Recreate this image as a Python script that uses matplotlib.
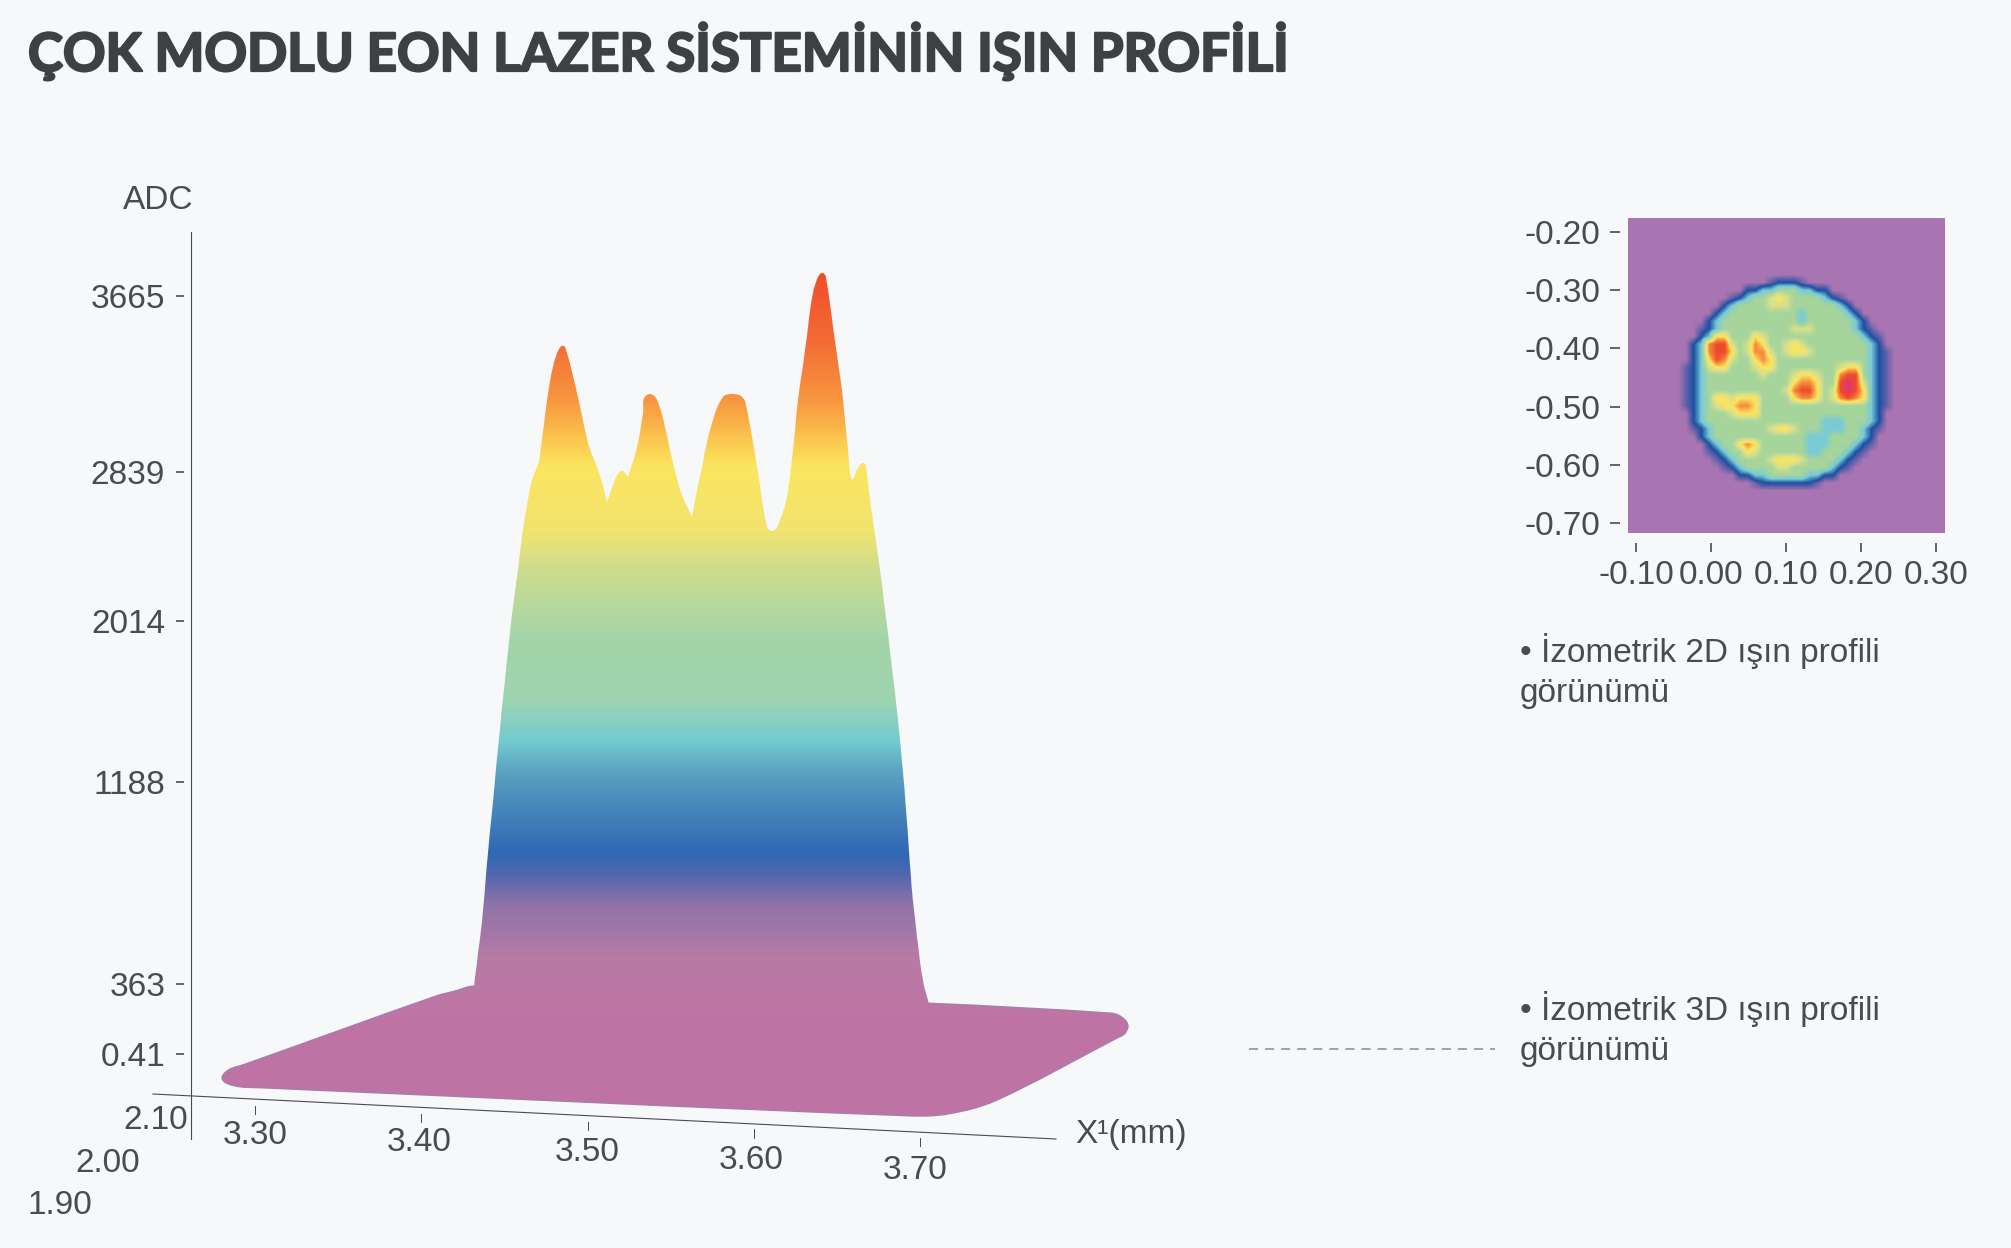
#! /usr/bin/env python3

# Beam profile of the multimode EON laser: 3D silhouette and 2D inset.

import matplotlib
matplotlib.use('Agg')
import matplotlib.pyplot as plt
import matplotlib.patheffects as pe
import numpy as np
from matplotlib.colors import LinearSegmentedColormap
from matplotlib.path import Path
from matplotlib.patches import PathPatch
from matplotlib.transforms import IdentityTransform

W, H = 2011, 1248
BG = '#F7F8FA'
INK = '#4A4B4F'
TXT = {'family': ['Liberation Sans', 'DejaVu Sans'], 'color': INK, 'fontsize': 24}

title = 'ÇOK MODLU EON LAZER SİSTEMİNİN IŞIN PROFİLİ'

adc_ticks = [0.41, 363, 1188, 2014, 2839, 3665]
adc_labels = ['0.41', '363', '1188', '2014', '2839', '3665']
# heights of those ticks on the picture are uneven, the scale follows them
adc_pos = [194, 264, 466, 627, 776, 952]

x_ticks = [3.30, 3.40, 3.50, 3.60, 3.70]
x_labels = ['3.30', '3.40', '3.50', '3.60', '3.70']
x_tick_top = [-270, -311, -352, -388, -435]
x_tick_bot = [-311, -352, -393, -435, -476]
x_label_adc = [-424, -460, -512, -553, -605]
x_label_mm = [3.30, 3.399, 3.50, 3.5985, 3.697]

y1_labels = ['2.10', '2.00', '1.90']
y1_mm = [3.2597, 3.2308, 3.2019]
y1_adc = [-343, -566, -783]

# outline of the surface, x in mm and ADC counts, cusps are listed twice
profile_mm = [3.4317, 3.4317, 3.4341, 3.4371, 3.4401, 3.4444, 3.4486, 3.4534, 3.4582, 3.4624, 3.4666,
              3.4708, 3.4720, 3.4756, 3.4792, 3.4829, 3.4859, 3.4877, 3.4937, 3.5003, 3.5057, 3.5099,
              3.5117, 3.5117, 3.5147, 3.5183, 3.5213, 3.5244, 3.5244, 3.5298, 3.5334, 3.5340, 3.5376,
              3.5418, 3.5466, 3.5514, 3.5568, 3.5629, 3.5629, 3.5689, 3.5755, 3.5815, 3.5875, 3.5935,
              3.5959, 3.6020, 3.6080, 3.6110, 3.6146, 3.6200, 3.6236, 3.6266, 3.6308, 3.6356, 3.6392, 3.6417,
              3.6435, 3.6477, 3.6531, 3.6567, 3.6585, 3.6597, 3.6627, 3.6657, 3.6675, 3.6705, 3.6759,
              3.6807, 3.6868, 3.6916, 3.6943, 3.6982, 3.7018, 3.7054, 3.7054]
profile_adc = [347, 347, 490, 665, 898, 1198, 1573, 1952, 2296, 2590, 2795,
               2886, 2956, 3177, 3332, 3416, 3430, 3397, 3210, 2975, 2863, 2739,
               2673, 2673, 2750, 2828, 2844, 2811, 2811, 2956, 3116, 3186, 3205,
               3177, 3050, 2881, 2712, 2590, 2590, 2863, 3083, 3191, 3205, 3186,
               3130, 2863, 2534, 2512, 2546, 2701, 2942, 3177, 3412, 3679, 3764, 3773,
               3749, 3520, 3224, 2942, 2806, 2800, 2858, 2881, 2863, 2645, 2296,
               1952, 1506, 1074, 800, 555, 379, 259, 259]
base_mm = [3.7054, 3.8143, 3.8203, 3.8245, 3.8227, 3.8185, 3.7451, 3.7174, 3.6946, 3.3030, 3.2910,
           3.2826, 3.2808, 3.2850, 3.2940, 3.4089, 3.4203, 3.4317]
base_adc = [259, 208, 192, 151, 109, 88, -238, -305, -316, -170, -165,
            -145, -119, -83, -57, 296, 322, 347]

# colour of the surface at a given count
grad_adc = [-400, 176, 462, 686, 808, 898, 1230, 1400, 1609, 1917, 2296, 2518, 2863, 2989, 3177, 3458, 3800]
grad_col = ['#BF73A4', '#BF73A4', '#B87AA5', '#8D73A8', '#4F66AE', '#2F68B4', '#5AA0C0', '#74CBD0',
            '#9FD4B0', '#A3D4A8', '#CCDC8C', '#F2E36E', '#FBE55F', '#FBC64F', '#F7963F', '#F26B34', '#EF4A2A']

# 2D view, levels read cell by cell, a dot is half way from background to rim
heat_x_ticks = [-0.10, 0.00, 0.10, 0.20, 0.30]
heat_x_labels = ['-0.10', '0.00', '0.10', '0.20', '0.30']
heat_y_ticks = [-0.20, -0.30, -0.40, -0.50, -0.60, -0.70]
heat_y_labels = ['-0.20', '-0.30', '-0.40', '-0.50', '-0.60', '-0.70']
heat_col = ['#A874B2', '#1C4FA2', '#78CBD8', '#A5D59B', '#D8E08C', '#FBE55F', '#F58A3C', '#EE4B2B', '#E0357A']
heat_rows = [
    '0' * 41, '0' * 41, '0' * 41, '0' * 41, '0' * 41, '0' * 41, '0' * 41, '0' * 41,
    '0' * 18 + '.111.' + '0' * 18,
    '0' * 15 + '11223332211' + '0' * 15,
    '0' * 13 + '.1233454333321.' + '0' * 13,
    '0' * 12 + '12333344433333321' + '0' * 12,
    '0' * 11 + '1233333333323333321' + '0' * 11,
    '0' * 10 + '123333333333233333321' + '0' * 10,
    '0' * 9 + '.123333333334443333321.' + '0' * 9,
    '0' * 9 + '12553335433333333333321.' + '0' * 8,
    '0' * 8 + '1267743465334543333333321' + '0' * 8,
    '0' * 8 + '1267753466434554333333321.' + '0' * 7,
    '0' * 8 + '1257643356533333333333321.' + '0' * 7,
    '0' * 7 + '.1245533345533333333455321.' + '0' * 7,
    '0' * 7 + '.1233333334333455433677321.' + '0' * 7,
    '0' * 7 + '.1233333333333566533787421.' + '0' * 7,
    '0' * 7 + '.1233333333334677534787521.' + '0' * 7,
    '0' * 7 + '.1235545553333566534676521.' + '0' * 7,
    '0' * 7 + '.1234556653333333333333321.' + '0' * 7,
    '0' * 8 + '1233345553333333333333321' + '0' * 8,
    '0' * 8 + '1233333333333333322233321' + '0' * 8,
    '0' * 8 + '.12333333345543332223321.' + '0' * 8,
    '0' * 9 + '12333333333333222333321' + '0' * 9,
    '0' * 10 + '123356533333322233321.' + '0' * 9,
    '0' * 10 + '.1233543333332233321.' + '0' * 10,
    '0' * 11 + '.12333345554333321.' + '0' * 11,
    '0' * 12 + '.123333443333321.' + '0' * 12,
    '0' * 14 + '1122333332211' + '0' * 14,
    '0' * 16 + '.1111111.' + '0' * 16,
    '0' * 41, '0' * 41, '0' * 41, '0' * 41, '0' * 41, '0' * 41,
]


def smooth_path(px, py):
    # closed Bezier outline through the read points, handles limited by segment length
    pts = np.column_stack([px, py])
    n = len(pts)
    verts = [pts[0]]
    codes = [Path.MOVETO]
    for i in range(n):
        p0, p1 = pts[i - 1], pts[i]
        p2, p3 = pts[(i + 1) % n], pts[(i + 2) % n]
        seg = np.hypot(*(p2 - p1))
        t1 = p2 - p0
        t2 = p3 - p1
        t1 = t1 / max(np.hypot(*t1), 1e-6)
        t2 = t2 / max(np.hypot(*t2), 1e-6)
        verts += [p1 + t1 * seg / 3, p2 - t2 * seg / 3, p2]
        codes += [Path.CURVE4] * 3
    return Path(verts, codes)


def draw_main(fig):
    left, right = 184, 1150
    ax = fig.add_axes([left / W, 0, (right - left) / W, 1])
    ax.patch.set_alpha(0)

    knots = [-1005] + adc_ticks + [5054]
    pos = [0] + adc_pos + [H]
    ax.set_yscale('function', functions=(lambda v: np.interp(v, knots, pos),
                                         lambda v: np.interp(v, pos, knots)))
    ax.set_ylim(knots[0], knots[-1])
    ax.set_xlim(3.30 + (left - 255) * 0.0006015, 3.30 + (right - 255) * 0.0006015)
    for s in ax.spines.values():
        s.set_visible(False)
    ax.set_xticks([])
    ax.set_yticks(adc_ticks, adc_labels)
    ax.minorticks_off()
    ax.tick_params(axis='y', length=5.5, width=1.2, color=INK, pad=8)
    for t in ax.get_yticklabels():
        t.set(**TXT)

    # axis lines
    ax.plot([3.2615, 3.2615], [-440, 3965], color=INK, lw=0.8, clip_on=False)
    ax.plot([3.2386, 3.7818], [-207, -440], color=INK, lw=0.8, clip_on=False)
    for x, a, b in zip(x_ticks, x_tick_top, x_tick_bot):
        ax.plot([x, x], [a, b], color=INK, lw=0.7)
    for x, y, s in zip(x_label_mm, x_label_adc, x_labels):
        ax.text(x, y, s, ha='center', va='center', **TXT)
    for x, y, s in zip(y1_mm, y1_adc, y1_labels):
        ax.text(x, y, s, ha='right', va='center', clip_on=False, **TXT)
    ax.text(3.7934, -416, 'X¹(mm)', ha='left', va='center', **TXT)
    ax.text(3.2630, 4115, 'ADC', ha='right', va='center', **TXT)

    # surface
    to_px = ax.transData.transform
    all_px = to_px(np.column_stack([profile_mm + base_mm[1:-1], profile_adc + base_adc[1:-1]]))
    outline = smooth_path(all_px[:, 0], all_px[:, 1])

    base_px = to_px(np.column_stack([base_mm, base_adc]))
    rim = PathPatch(smooth_path(base_px[:, 0], base_px[:, 1]), transform=IdentityTransform(),
                    facecolor='none', edgecolor='#A87DAA', lw=2.2, zorder=2)
    ax.add_patch(rim)

    lo, hi = grad_adc[0], grad_adc[-1]
    stops = [(v - lo) / (hi - lo) for v in grad_adc]
    cmap = LinearSegmentedColormap.from_list('surface', list(zip(stops, grad_col)), N=512)
    rows = np.linspace(lo, hi, 900)
    mesh = ax.pcolormesh([3.27, 3.83], rows, rows[:-1, None], cmap=cmap, vmin=lo, vmax=hi,
                         shading='flat', zorder=3, rasterized=True)
    mesh.set_clip_path(outline, IdentityTransform())


def draw_inset(fig):
    # axes reach 8 px past the image on the tick sides, ticks stand off it that way
    ax = fig.add_axes([1620 / W, 1 - 533 / H - 10 / H, 324 / W, 325 / H])
    levels = np.array([[0.5 if c == '.' else int(c) for c in row] for row in heat_rows], dtype=float)
    ax.imshow(levels, cmap=LinearSegmentedColormap.from_list('beam', heat_col), vmin=0, vmax=8,
              extent=[-0.1107, 0.3107, -0.717, -0.176], aspect='auto', interpolation='bilinear')
    ax.set_xlim(-0.1213, 0.3107)
    ax.set_ylim(-0.734, -0.176)
    for s in ax.spines.values():
        s.set_visible(False)
    ax.patch.set_alpha(0)
    ax.set_xticks(heat_x_ticks, heat_x_labels)
    ax.set_yticks(heat_y_ticks, heat_y_labels)
    ax.tick_params(axis='x', length=6.5, width=1.2, color=INK, pad=6)
    ax.tick_params(axis='y', length=7, width=1.2, color=INK, pad=7)
    for t in ax.get_xticklabels() + ax.get_yticklabels():
        t.set(**TXT)


def main():
    fig = plt.figure(figsize=(W / 100, H / 100), dpi=100, facecolor=BG)
    fig.text(28 / W, 1 - 71 / H, title, ha='left', va='baseline',
             family=['Lato', 'DejaVu Sans'], weight='bold', color='#3F4044', fontsize=38,
             path_effects=[pe.withStroke(linewidth=1.6, foreground='#3F4044')])

    draw_main(fig)
    draw_inset(fig)

    fig.text(1520 / W, 1 - 671 / H, '• İzometrik 2D ışın profili\ngörünümü', ha='left', va='center',
             linespacing=1.4, **TXT)
    fig.text(1520 / W, 1 - 1029 / H, '• İzometrik 3D ışın profili\ngörünümü', ha='left', va='center',
             linespacing=1.4, **TXT)
    fig.add_artist(plt.Line2D([1249 / W, 1495 / W], [1 - 1049 / H, 1 - 1049 / H], color='#9A9A9E',
                              lw=1.3, linestyle=(0, (5, 3.9))))

    fig.savefig('out.png', dpi=100, facecolor=BG)


if __name__ == "__main__":
    main()
